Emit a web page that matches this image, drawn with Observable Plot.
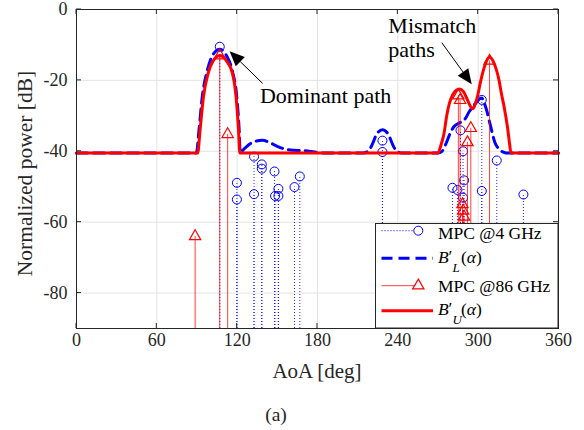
<!DOCTYPE html>
<html>
<head>
<meta charset="utf-8">
<script src="https://cdn.jsdelivr.net/npm/d3@7"></script>
<script src="https://cdn.jsdelivr.net/npm/@observablehq/plot@0.6"></script>
<style>
  body { margin: 0; background: #fff; }
  svg { display: block; }
</style>
</head>
<body>
<div id="chart"></div>
<script>
// Axis ticks
const xTicks = [0, 60, 120, 180, 240, 300, 360];
const yTicks = [0, -20, -40, -60, -80];

// Multipath components at 4 GHz (AoA in degrees, normalized power in dB)
const mpc4Aoa   = [107, 119.8, 119.8, 132.6, 132.6, 138.4, 138.4, 147.9, 148.3, 150.8, 150.8, 162.8, 166.8,
                   228.5, 228.5, 280.8, 284.5, 286.8, 288.7, 289.5, 288.7, 302.7, 302.7, 313.9, 333.8];
const mpc4Power = [-10.5, -48.9, -53.6, -41.5, -52.1, -43.7, -44.9, -45.7, -52.6, -50.6, -52.6, -50.1, -47.1,
                   -37.0, -40.2, -50.3, -50.9, -34.1, -40.0, -48.2, -53.1, -25.5, -51.2, -42.6, -52.2];

// Multipath components at 86 GHz
const mpc86Aoa   = [88.6, 107, 112.9, 285.2, 286.5, 292, 294.5, 288.3, 288.8, 289.5, 308.5];
const mpc86Power = [-64, -13, -35.2, -24.3, -25.6, -37.5, -33.5, -55, -56.8, -58.5, -14.5];

// Beam pattern B'_L(alpha)
const bLAoa   = [0, 89.5, 91.5, 93.8, 97.5, 101.5, 107, 112, 116.5, 119.8,
                 121.5, 122.3, 125.2, 130, 134.5, 138.9, 144, 150, 155, 162,
                 170, 178, 186, 214, 218, 221, 224, 228.5, 233, 236,
                 239, 243, 270, 273, 275.8, 279, 282, 286, 290, 293.5,
                 298, 302.5, 306, 309, 312.5, 316, 320, 322, 360];
const bLPower = [-40.5, -40.5, -34, -25, -17.5, -13, -11.2, -13, -17.5, -25,
                 -34, -40.3, -39.3, -37.8, -37.1, -36.9, -37.5, -38.6, -39.3, -39.7,
                 -39.8, -40.2, -40.5, -40.5, -39.9, -38, -35.3, -33.9, -35.3, -38,
                 -39.9, -40.5, -40.5, -40, -38, -35, -33, -32, -31, -28.7,
                 -26.5, -25, -28, -32.5, -37.5, -39.5, -40.4, -40.5, -40.5];

// Beam pattern B'_U(alpha)
const bUAoa   = [0, 90.5, 92.3, 94.8, 98.3, 102, 107, 112, 116.5, 119.2,
                 121, 122, 270, 272, 274.5, 276.5, 278.5, 281, 283.5, 286,
                 289, 292, 294.5, 296, 297.5, 299.5, 302, 305, 308.5, 312,
                 315.6, 317.5, 319.4, 321.9, 323.5, 324.5, 360];
const bUPower = [-40.5, -40.5, -34, -24.7, -18, -14.5, -13, -14.5, -18, -24.7,
                 -34, -40.5, -40.5, -38.5, -35, -30, -26.5, -24, -22.8, -22.4,
                 -23.2, -25.5, -27.5, -28, -27, -24.5, -20, -15.8, -13.5, -15.3,
                 -20, -24, -27.5, -33.2, -38, -40.5, -40.5];

// Text annotations and their arrows (data coordinates)
const annotLines = [
  {text: "Dominant path", aoa: 137.4, power: -26.4},
  {text: "Mismatch",      aoa: 233.3, power: -6.9},
  {text: "paths",         aoa: 233.3, power: -13.5}
];
const annotArrows = [
  {fromAoa: 139.4, fromPower: -21.0, toAoa: 114.7, toPower: -11.9},
  {fromAoa: 273.2, fromPower: -9.5,  toAoa: 295.6, toPower: -21.2}
];

const mpc4  = mpc4Aoa.map((a, i) => ({aoa: a, power: mpc4Power[i]}));
const mpc86 = mpc86Aoa.map((a, i) => ({aoa: a, power: mpc86Power[i]}));
const bL = bLAoa.map((a, i) => ({aoa: a, power: bLPower[i]}));
const bU = bUAoa.map((a, i) => ({aoa: a, power: bUPower[i]}));

const serif = "'Liberation Serif', 'Times New Roman', serif";
const BLUE = "#0000ff", RED = "#ff0000", INK = "#262626";
const W = 584, H = 430, mL = 76, mR = 26, mT = 9, mB = 102;
const floor = -90;

const plot = Plot.plot({
  width: W, height: H,
  marginLeft: mL, marginRight: mR, marginTop: mT, marginBottom: mB,
  style: {fontFamily: serif, fontSize: "18px", color: INK, background: "#fff"},
  x: {domain: [0, 360]},
  y: {domain: [floor, 0]},
  marks: [
    Plot.ruleX(xTicks, {stroke: "#e3e3e3", strokeWidth: 1}),
    Plot.ruleY(yTicks, {stroke: "#e3e3e3", strokeWidth: 1}),
    // 4 GHz stems
    Plot.ruleX(mpc4, {x: "aoa", y1: floor, y2: "power", stroke: BLUE, strokeWidth: 1, strokeDasharray: "1,2", strokeOpacity: 0.85}),
    Plot.dot(mpc4, {x: "aoa", y: "power", r: 4.5, stroke: BLUE, fill: "none", strokeWidth: 1}),
    Plot.line(bL, {x: "aoa", y: "power", stroke: BLUE, strokeWidth: 3, strokeDasharray: "11,6", curve: "monotone-x"}),
    // 86 GHz stems
    Plot.ruleX(mpc86, {x: "aoa", y1: floor, y2: "power", stroke: RED, strokeWidth: 1, strokeOpacity: 0.75}),
    Plot.dot(mpc86, {x: "aoa", y: "power", symbol: "triangle", r: 4.2, stroke: RED, fill: "none", strokeWidth: 1.2}),
    Plot.line(bU, {x: "aoa", y: "power", stroke: RED, strokeWidth: 3, curve: "monotone-x"}),
    Plot.frame({stroke: INK, strokeWidth: 1}),
    Plot.axisX({ticks: xTicks, tickSize: 0, tickPadding: 5, label: null, tickFormat: d => String(d), fontSize: 18}),
    Plot.axisY({ticks: yTicks, tickSize: 0, tickPadding: 9, label: null, tickFormat: d => String(d), fontSize: 18})
  ]
});

const svg = d3.select(plot);
const sx = plot.scale("x").apply, sy = plot.scale("y").apply;
const x0 = sx(0), x1 = sx(360), yTop = sy(0), yBot = sy(floor);

// Inward tick marks on all four sides
const tk = svg.append("g").attr("stroke", INK).attr("stroke-width", 1);
const tl = 5;
for (const v of xTicks) {
  tk.append("line").attr("x1", sx(v)).attr("x2", sx(v)).attr("y1", yBot).attr("y2", yBot - tl);
  tk.append("line").attr("x1", sx(v)).attr("x2", sx(v)).attr("y1", yTop).attr("y2", yTop + tl);
}
for (const v of yTicks) {
  tk.append("line").attr("x1", x0).attr("x2", x0 + tl).attr("y1", sy(v)).attr("y2", sy(v));
  tk.append("line").attr("x1", x1).attr("x2", x1 - tl).attr("y1", sy(v)).attr("y2", sy(v));
}

// Axis titles and caption
svg.append("text").attr("x", (x0 + x1) / 2).attr("y", 377.5).attr("text-anchor", "middle")
  .attr("font-family", serif).attr("font-size", 21).attr("fill", INK).text("AoA [deg]");
svg.append("text").attr("transform", `translate(31.5,${(yTop + yBot) / 2 + 5}) rotate(-90)`)
  .attr("text-anchor", "middle").attr("font-family", serif).attr("font-size", 21.5).attr("fill", INK)
  .text("Normalized power [dB]");
svg.append("text").attr("x", 276).attr("y", 421).attr("text-anchor", "middle")
  .attr("font-family", serif).attr("font-size", 19.5).attr("fill", INK).text("(a)");

// Annotations
const an = svg.append("g").attr("font-family", serif).attr("font-size", 22).attr("fill", "#000")
  .attr("text-anchor", "start");
for (const a of annotLines) an.append("text").attr("x", sx(a.aoa)).attr("y", sy(a.power)).text(a.text);
for (const a of annotArrows) {
  const fx = sx(a.fromAoa), fy = sy(a.fromPower), tx = sx(a.toAoa), ty = sy(a.toPower);
  const dx = tx - fx, dy = ty - fy, len = Math.hypot(dx, dy), ux = dx / len, uy = dy / len;
  const hl = 15, hw = 6.5;
  const bx = tx - ux * hl, by = ty - uy * hl;
  an.append("line").attr("x1", fx).attr("y1", fy).attr("x2", bx).attr("y2", by)
    .attr("stroke", "#000").attr("stroke-width", 1);
  an.append("path").attr("fill", "#000")
    .attr("d", `M${tx},${ty}L${bx - uy * hw},${by + ux * hw}L${bx + uy * hw},${by - ux * hw}Z`);
}

// Legend
const lg = svg.append("g").attr("font-family", serif).attr("font-size", 17.5).attr("fill", "#000")
  .attr("text-anchor", "start");
lg.append("rect").attr("x", 375.5).attr("y", 223.5).attr("width", x1 - 375.5).attr("height", yBot - 223.5)
  .attr("fill", "#fff").attr("stroke", INK).attr("stroke-width", 1);
const lx0 = 381.5, lxm = 418.3, lx1 = 433, ltx = 438;
const rows = [230.7, 258.3, 285.7, 310.7];
// MPC @4 GHz
lg.append("line").attr("x1", lx0).attr("x2", lxm - 4.5).attr("y1", rows[0]).attr("y2", rows[0])
  .attr("stroke", BLUE).attr("stroke-dasharray", "1,2");
lg.append("circle").attr("cx", lxm).attr("cy", rows[0]).attr("r", 4.5).attr("fill", "none").attr("stroke", BLUE);
lg.append("text").attr("x", ltx).attr("y", rows[0] + 8.5).text("MPC @4 GHz");
// B'_L
lg.append("line").attr("x1", lx0).attr("x2", lx1).attr("y1", rows[1]).attr("y2", rows[1])
  .attr("stroke", BLUE).attr("stroke-width", 3).attr("stroke-dasharray", "11,6");
// MPC @86 GHz
lg.append("line").attr("x1", lx0).attr("x2", lxm - 3).attr("y1", rows[2]).attr("y2", rows[2])
  .attr("stroke", RED).attr("stroke-opacity", 0.75);
lg.append("path").attr("transform", `translate(${lxm},${rows[2]})`)
  .attr("d", d3.symbol(d3.symbolTriangle, Math.PI * 4.2 * 4.2)()).attr("fill", "none").attr("stroke", RED).attr("stroke-width", 1.2);
lg.append("text").attr("x", ltx).attr("y", rows[2] + 6.5).text("MPC @86 GHz");
// B'_U
lg.append("line").attr("x1", lx0).attr("x2", lx1).attr("y1", rows[3]).attr("y2", rows[3])
  .attr("stroke", RED).attr("stroke-width", 3);

// Beam labels B'_L(α), B'_U(α): italic B with a prime and a subscript
function beamLabel(y, sub) {
  const t = lg.append("text").attr("x", ltx).attr("y", y);
  t.append("tspan").attr("font-style", "italic").text("B");
  t.append("tspan").attr("x", ltx + 10.5).attr("dy", -1).text("\u2032");
  t.append("tspan").attr("x", ltx + 14.5).attr("dy", 10).attr("font-size", 13).attr("font-style", "italic").text(sub);
  t.append("tspan").attr("x", ltx + 23).attr("dy", -9).text("(");
  t.append("tspan").attr("font-style", "italic").text("\u03b1");
  t.append("tspan").text(")");
}
beamLabel(rows[1] + 4.5, "L");
beamLabel(rows[3] + 4.5, "U");

document.getElementById("chart").appendChild(plot);
</script>
</body>
</html>
